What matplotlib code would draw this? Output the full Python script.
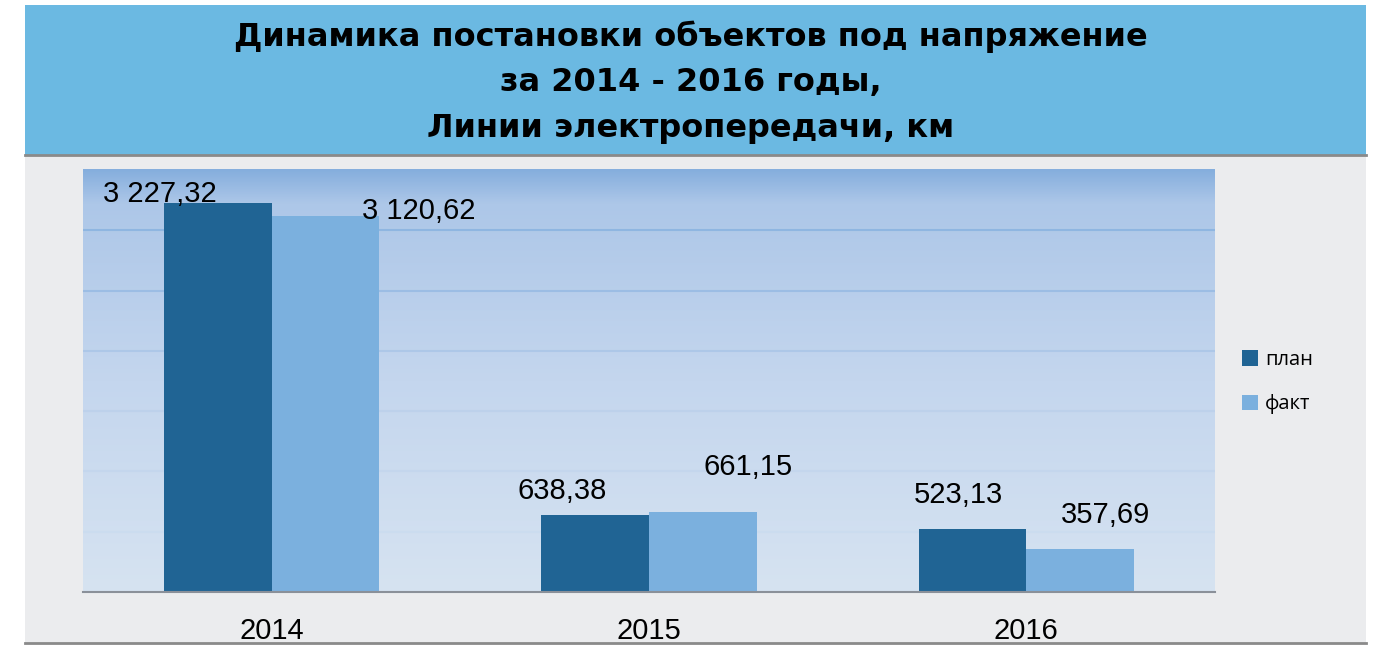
import matplotlib.pyplot as plt
import numpy as np
from matplotlib.patches import Rectangle
from matplotlib.lines import Line2D
from matplotlib.colors import LinearSegmentedColormap

# data
years = ['2014', '2015', '2016']
plan = [3227.32, 638.38, 523.13]
fact = [3120.62, 661.15, 357.69]
plan_labels = ['3 227,32', '638,38', '523,13']
fact_labels = ['3 120,62', '661,15', '357,69']
series_names = ['план', 'факт']
title = 'Динамика постановки объектов под напряжение\nза 2014 - 2016 годы,\nЛинии электропередачи, км'

# label offsets from the bar top (pixels), they are placed by hand in the original
plan_off = [(-58, 1), (-33, 16), (-14, 26)]
fact_off = [(93, -3), (45, 37), (25, 26)]

W, H = 1392, 645
fig = plt.figure(figsize=(W / 100, H / 100), dpi=100)
fig.patch.set_facecolor('white')

def fx(px):
    return px / W

def fy(py):
    return 1 - py / H

# header band and grey panel
fig.patches.append(Rectangle((fx(25), fy(155)), fx(1366) - fx(25), fy(5) - fy(155),
                             transform=fig.transFigure, facecolor='#6BB9E2', edgecolor='none', zorder=0))
fig.patches.append(Rectangle((fx(25), fy(643)), fx(1366) - fx(25), fy(155) - fy(643),
                             transform=fig.transFigure, facecolor='#EBECEE', edgecolor='none', zorder=0))
fig.lines.append(Line2D([fx(25), fx(1366)], [fy(155), fy(155)], transform=fig.transFigure,
                        color='#8A8A8A', lw=2, zorder=1))
fig.lines.append(Line2D([fx(25), fx(1366)], [fy(643), fy(643)], transform=fig.transFigure,
                        color='#8A8A8A', lw=2, zorder=1))

fig.text(0.496, fy(82), title, ha='center', va='center', fontsize=23, fontweight='bold',
         family='DejaVu Sans', linespacing=1.6, color='black')

ax = fig.add_axes([fx(83), fy(592), fx(1215) - fx(83), fy(169) - fy(592)])
ax.set_zorder(3)
ax.set_facecolor('none')

# gradient background of the plot area
grad = LinearSegmentedColormap.from_list('bg', [(0.0, '#85AEDD'), (0.08, '#ADC7E8'),
                                                (0.5, '#C4D6EE'), (1.0, '#D6E3F1')])
ax.imshow(np.linspace(0, 1, 256)[:, None], cmap=grad, aspect='auto',
          extent=[0, 1, 0, 1], transform=ax.transAxes, zorder=0)

# gridlines fade out towards the bottom like in the original
grid_alpha = [0.06, 0.1, 0.15, 0.35, 0.6, 0.85]
for k, a in enumerate(grid_alpha):
    ax.axhline(500 * (k + 1), color='#8AB3E0', lw=1.5, alpha=a, zorder=1)

x = np.arange(len(years))
w = 0.285
ax.bar(x - w / 2, plan, w, color='#206494', label=series_names[0], zorder=3)
ax.bar(x + w / 2, fact, w, color='#7BB0DE', label=series_names[1], zorder=3)

for i in range(len(years)):
    ax.annotate(plan_labels[i], (x[i] - w / 2, plan[i]), xytext=plan_off[i], textcoords='offset pixels',
                ha='center', va='baseline', fontsize=21, family='Liberation Sans', zorder=5)
    ax.annotate(fact_labels[i], (x[i] + w / 2, fact[i]), xytext=fact_off[i], textcoords='offset pixels',
                ha='center', va='baseline', fontsize=21, family='Liberation Sans', zorder=5)

ax.set_xlim(-0.5, 2.5)
ax.set_ylim(0, 3510)
ax.set_yticks([])
ax.set_xticks(x)
ax.set_xticklabels(years, fontsize=21, family='Liberation Sans')
ax.tick_params(axis='x', length=0, pad=18)
for s in ['top', 'right', 'left']:
    ax.spines[s].set_visible(False)
ax.spines['bottom'].set_color('#8A9099')
ax.spines['bottom'].set_linewidth(1.5)
ax.spines['bottom'].set_zorder(4)

fig.legend(loc='upper left', bbox_to_anchor=(fx(1224), fy(332)), frameon=False,
           prop={'family': 'Open Sans', 'size': 14.5}, handlelength=0.8, handleheight=0.8,
           handletextpad=0.35, labelspacing=1.2)

fig.savefig('out.png', dpi=100)
